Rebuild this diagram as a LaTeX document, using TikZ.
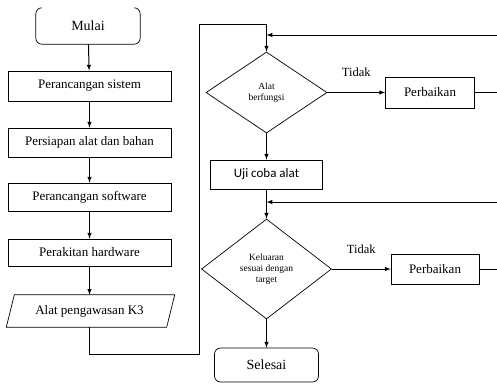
\documentclass[tikz,border=0pt]{standalone}
\usepackage{fontspec}
\setmainfont{Liberation Serif}
\newfontfamily\ujifont{Carlito}
\usetikzlibrary{shapes.geometric}
\usetikzlibrary{arrows}

\begin{document}
\begin{tikzpicture}[x=1pt,y=-1pt,
	kotak/.style={draw,line width=0.7pt,inner sep=0pt,minimum width=163pt,font=\fontsize{13}{15}\selectfont},
	putusan/.style={draw,diamond,line width=0.7pt,inner sep=0pt,align=center,font=\fontsize{9.5}{11}\selectfont},
	garis/.style={line width=1pt},
	panah/.style={line width=1pt,-latex}]
	\useasboundingbox (0,0) rectangle (497,383);
	% kolom kiri
	\node[minimum width=104pt,minimum height=36pt,inner sep=0pt,font=\fontsize{14}{16}\selectfont] (mulai) at (88,26) {Mulai};
	\draw[line width=0.7pt,rounded corners=6pt] ([xshift=6pt]mulai.north west) -- (mulai.north west) -- (mulai.south west) -- (mulai.south east) -- (mulai.north east) -- ([xshift=-6pt]mulai.north east);
	\foreach \nama/\y/\h/\teks in {sistem/86/30/Perancangan sistem, bahan/142.5/29/Persiapan alat dan bahan, software/197/28/Perancangan software, hardware/252.5/27/Perakitan hardware}
		\node[kotak,minimum height=\h pt] (\nama) at (89.5,\y) {\teks};
	\node[minimum width=160pt,minimum height=32pt,inner sep=0pt,font=\fontsize{13}{15}\selectfont] (k3) at (89.5,311) {Alat pengawasan K3};
	\draw[line width=0.7pt] ([xshift=-3pt]k3.south west) -- ([xshift=5pt]k3.north west) -- ([xshift=5pt]k3.north east) -- ([xshift=-3pt]k3.south east) -- cycle;
	\foreach \a/\b in {mulai/sistem, sistem/bahan, bahan/software, software/hardware, hardware/k3}
		\draw[panah] (\a) -- (\b);
	% kolom kanan
	\node[putusan,minimum width=121pt,minimum height=81pt] (cek1) at (266.5,92.5) {Alat\\berfungsi};
	\node[kotak,minimum width=89pt,minimum height=31pt] (perbaikan1) at (430,92.5) {Perbaikan};
	\node[kotak,minimum width=112pt,minimum height=29pt,font=\ujifont\fontsize{13}{15}\selectfont] (uji) at (266.5,174.5) {Uji coba alat};
	\node[putusan,minimum width=130pt,minimum height=100pt] (cek2) at (266.5,269) {Keluaran\\sesuai dengan\\target};
	\node[kotak,minimum width=88pt,minimum height=30pt] (perbaikan2) at (435,269) {Perbaikan};
	\node[draw,line width=0.7pt,rounded corners=6pt,minimum width=104pt,minimum height=34pt,inner sep=0pt,font=\fontsize{14}{16}\selectfont] (selesai) at (266.5,365) {Selesai};
	% penghubung
	\coordinate (bawah) at (199,354);
	\coordinate (atas) at (199,24);
	\coordinate (balik1) at (500,35);
	\coordinate (balik2) at (500,202);
	\draw[panah] (k3.south) |- (bawah) -- (atas) -| (cek1.north);
	\draw[panah] (balik1) -- (balik1 -| cek1.north);
	\draw[panah] (balik2) -- (balik2 -| cek2.north);
	\draw[panah] (cek1) -- node[above=12pt,font=\fontsize{12.5}{14}\selectfont] (tidak1) {Tidak} (perbaikan1);
	\draw[garis] (perbaikan1.east) -- (perbaikan1.east -| balik1);
	\draw[panah] (cek1) -- (uji);
	\draw[panah] (uji) -- (cek2);
	\draw[panah] (cek2) -- node[above=12pt,font=\fontsize{12.5}{14}\selectfont] (tidak2) {Tidak} (perbaikan2);
	\draw[garis] (perbaikan2.east) -- (perbaikan2.east -| balik2);
	\draw[panah] (cek2) -- (selesai);
\end{tikzpicture}
\end{document}
